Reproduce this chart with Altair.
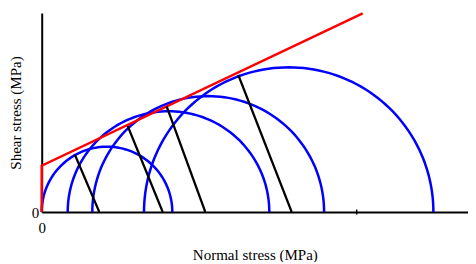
import altair as alt
import numpy as np
import pandas as pd

# Mohr circles (units: arbitrary stress units)
circle_ids = ["C1", "C2", "C3", "C4"]
centers = [65.3, 126.8, 166.5, 247.0]
radii = [65.3, 100.8, 115.9, 144.7]

# Failure envelope (red): cohesion intercept and end point
env_x = [0.0, 0.0, 321.0]
env_y = [0.0, 46.3, 198.7]

# Black lines from axis to tangent points
seg_x1 = [57.6, 121.0, 163.6, 250.0]
seg_y1 = [0.0, 0.0, 0.0, 0.0]
seg_x2 = [33.3, 86.0, 125.0, 196.6]
seg_y2 = [57.0, 86.0, 105.5, 137.0]

tick_x = [315.0]

X_DOMAIN = [0, 426.3]
Y_DOMAIN = [0, 199]

angles = pd.DataFrame({"deg": np.arange(0, 181, 2)})
circ = pd.DataFrame({"id": circle_ids, "c": centers, "r": radii}).merge(angles, how="cross")

xs = alt.Scale(domain=X_DOMAIN, nice=False, zero=False)
ys = alt.Scale(domain=Y_DOMAIN, nice=False, zero=False)

FONT = "Liberation Serif"

xaxis = alt.Axis(values=[0], title="Normal stress (MPa)", tickSize=0, labelPadding=8,
                 grid=False, labelFlush=False, titlePadding=12)
yaxis = alt.Axis(values=[0], title="Shear stress (MPa)", tickSize=0, labelPadding=3,
                 grid=False, labelFlush=False, titlePadding=8)

circles = alt.Chart(circ).transform_calculate(
    px="datum.c + datum.r * cos(datum.deg * PI / 180)",
    py="datum.r * sin(datum.deg * PI / 180)",
).mark_line(color="#0000ff", strokeWidth=2.5).encode(
    x=alt.X("px:Q", scale=xs, axis=xaxis),
    y=alt.Y("py:Q", scale=ys, axis=yaxis),
    detail="id:N",
    order="deg:Q",
)

env_df = pd.DataFrame({"x": env_x, "y": env_y, "o": list(range(len(env_x)))})
envelope = alt.Chart(env_df).mark_line(color="#ff0000", strokeWidth=2.5).encode(
    x=alt.X("x:Q", scale=xs),
    y=alt.Y("y:Q", scale=ys),
    order="o:Q",
)

seg_df = pd.DataFrame({"x1": seg_x1, "y1": seg_y1, "x2": seg_x2, "y2": seg_y2})
segs = alt.Chart(seg_df).mark_rule(color="black", strokeWidth=2.2).encode(
    x=alt.X("x1:Q", scale=xs),
    y=alt.Y("y1:Q", scale=ys),
    x2="x2:Q",
    y2="y2:Q",
)

tick_df = pd.DataFrame({"t": tick_x})
tick = alt.Chart(tick_df).mark_rule(color="black", strokeWidth=1.5).encode(
    x=alt.X("t:Q", scale=xs),
    y=alt.value(196.5),
    y2=alt.value(201.5),
)

chart = alt.layer(circles, envelope, segs, tick).properties(
    width=426.3, height=199,
    autosize=alt.AutoSizeParams(type="none"),
    padding={"left": 33.7, "top": 5, "right": 0, "bottom": 50},
).configure_view(stroke=None).configure_axis(
    labelFont=FONT, titleFont=FONT, labelFontSize=15, titleFontSize=15,
    titleFontWeight="normal", labelColor="black", titleColor="black",
    domainColor="black", domainWidth=2,
)

chart.save("out.html", embed_options={"renderer": "svg", "actions": False})
